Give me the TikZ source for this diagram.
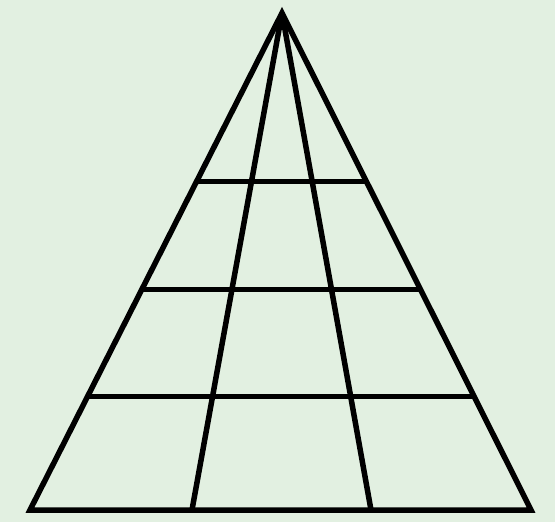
\documentclass[tikz,border=0pt]{standalone}
\usetikzlibrary{calc}
\definecolor{paper}{HTML}{E2F0E1}
\tikzset{
    edge/.style={line width=5.5pt, line join=miter},
}
\begin{document}
\begin{tikzpicture}[x=1pt, y=-1pt]
    \fill[paper] (0,0) rectangle (555,522);
    \useasboundingbox (0,0) rectangle (555,522);
    \coordinate (apex) at (282,13);
    \coordinate (baseL) at (30,510);
    \coordinate (baseR) at (531,510);
    \coordinate (footL) at (192,510);
    \coordinate (footR) at (371,510);
    % rungs on the outer edges
    \coordinate (rowAL) at ($(apex)!0.339!(baseL)$);
    \coordinate (rowAR) at ($(apex)!0.339!(baseR)$);
    \coordinate (rowBL) at ($(apex)!0.556!(baseL)$);
    \coordinate (rowBR) at ($(apex)!0.556!(baseR)$);
    \coordinate (rowCL) at ($(apex)!0.772!(baseL)$);
    \coordinate (rowCR) at ($(apex)!0.772!(baseR)$);
    \draw[edge] (apex) -- (baseR) -- (baseL) -- cycle;
    \draw[edge] (apex) -- (footL);
    \draw[edge] (apex) -- (footR);
    \draw[edge] (rowAL) -- (rowAR);
    \draw[edge] (rowBL) -- (rowBR);
    \draw[edge] (rowCL) -- (rowCR);
\end{tikzpicture}
\end{document}
